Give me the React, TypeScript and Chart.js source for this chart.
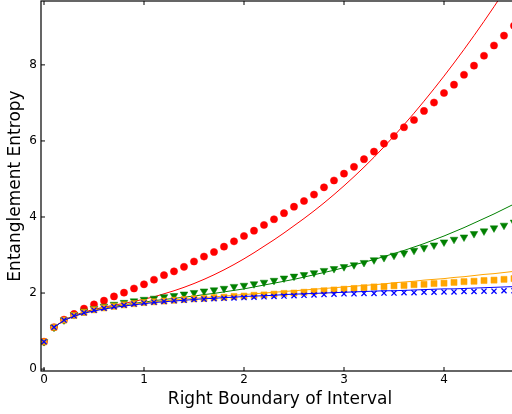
import { useEffect, useRef } from "react";
import { Chart, registerables } from "chart.js";

Chart.register(...registerables);

const xs = [0, 0.1, 0.2, 0.3, 0.4, 0.5, 0.6, 0.7, 0.8, 0.9, 1.0, 1.1, 1.2, 1.3, 1.4, 1.5, 1.6, 1.7, 1.8, 1.9, 2.0, 2.1, 2.2, 2.3, 2.4, 2.5, 2.6, 2.7, 2.8, 2.9, 3.0, 3.1, 3.2, 3.3, 3.4, 3.5, 3.6, 3.7, 3.8, 3.9, 4.0, 4.1, 4.2, 4.3, 4.4, 4.5, 4.6, 4.7];
const lineXs = [0.1, 0.2, 0.3, 0.4, 0.5, 0.6, 0.7, 0.8, 0.9, 1.0, 1.1, 1.2, 1.3, 1.4, 1.5, 1.6, 1.7, 1.8, 1.9, 2.0, 2.1, 2.2, 2.3, 2.4, 2.5, 2.6, 2.7, 2.8, 2.9, 3.0, 3.1, 3.2, 3.3, 3.4, 3.5, 3.6, 3.7, 3.8, 3.9, 4.0, 4.1, 4.2, 4.3, 4.4, 4.5, 4.6, 4.7];

const redPts = [0.72, 1.10, 1.30, 1.45, 1.59, 1.70, 1.80, 1.91, 2.01, 2.12, 2.23, 2.35, 2.47, 2.57, 2.69, 2.83, 2.96, 3.08, 3.22, 3.36, 3.50, 3.64, 3.79, 3.94, 4.10, 4.27, 4.42, 4.59, 4.78, 4.96, 5.14, 5.32, 5.52, 5.72, 5.93, 6.13, 6.36, 6.55, 6.79, 7.01, 7.26, 7.48, 7.74, 7.98, 8.24, 8.51, 8.77, 9.03];
const greenPts = [0.72, 1.10, 1.29, 1.43, 1.52, 1.59, 1.65, 1.70, 1.75, 1.79, 1.83, 1.86, 1.90, 1.93, 1.97, 2.01, 2.05, 2.08, 2.12, 2.17, 2.20, 2.24, 2.28, 2.33, 2.39, 2.44, 2.48, 2.53, 2.59, 2.64, 2.69, 2.74, 2.80, 2.87, 2.93, 2.99, 3.05, 3.12, 3.19, 3.26, 3.34, 3.41, 3.47, 3.56, 3.63, 3.71, 3.78, 3.86];
const orangePts = [0.72, 1.10, 1.29, 1.41, 1.49, 1.56, 1.61, 1.65, 1.69, 1.72, 1.75, 1.77, 1.79, 1.81, 1.83, 1.85, 1.86, 1.88, 1.89, 1.91, 1.92, 1.94, 1.95, 1.97, 1.99, 2.00, 2.02, 2.04, 2.06, 2.08, 2.10, 2.12, 2.14, 2.16, 2.17, 2.19, 2.20, 2.22, 2.23, 2.25, 2.26, 2.28, 2.30, 2.31, 2.33, 2.34, 2.36, 2.38];
const bluePts = [0.72, 1.10, 1.29, 1.40, 1.48, 1.55, 1.60, 1.64, 1.68, 1.71, 1.74, 1.76, 1.78, 1.80, 1.81, 1.83, 1.84, 1.85, 1.86, 1.87, 1.88, 1.89, 1.90, 1.91, 1.92, 1.93, 1.94, 1.95, 1.96, 1.97, 1.98, 1.98, 1.99, 1.99, 2.00, 2.00, 2.01, 2.01, 2.02, 2.02, 2.03, 2.03, 2.04, 2.04, 2.05, 2.05, 2.06, 2.06];

const redLine = [1.10, 1.29, 1.41, 1.50, 1.57, 1.63, 1.68, 1.73, 1.78, 1.84, 1.90, 1.98, 2.06, 2.15, 2.25, 2.36, 2.48, 2.61, 2.75, 2.90, 3.06, 3.23, 3.40, 3.58, 3.77, 3.96, 4.16, 4.37, 4.59, 4.82, 5.06, 5.31, 5.57, 5.845, 6.13, 6.425, 6.73, 7.045, 7.37, 7.705, 8.05, 8.405, 8.77, 9.145, 9.53, 9.925, 10.33];
const greenLine = [1.10, 1.28, 1.40, 1.48, 1.55, 1.60, 1.65, 1.69, 1.73, 1.76, 1.80, 1.83, 1.86, 1.89, 1.92, 1.96, 1.99, 2.03, 2.07, 2.11, 2.16, 2.21, 2.26, 2.31, 2.36, 2.42, 2.48, 2.54, 2.60, 2.67, 2.74, 2.81, 2.88, 2.96, 3.04, 3.12, 3.21, 3.30, 3.40, 3.50, 3.61, 3.72, 3.84, 3.96, 4.08, 4.21, 4.34];
const orangeLine = [1.10, 1.28, 1.39, 1.47, 1.54, 1.59, 1.63, 1.67, 1.71, 1.74, 1.77, 1.79, 1.82, 1.84, 1.86, 1.88, 1.90, 1.92, 1.94, 1.96, 1.98, 2.00, 2.02, 2.04, 2.06, 2.08, 2.10, 2.12, 2.14, 2.16, 2.18, 2.20, 2.22, 2.24, 2.27, 2.29, 2.31, 2.34, 2.36, 2.38, 2.41, 2.43, 2.46, 2.49, 2.51, 2.54, 2.57];
const blueLine = [1.10, 1.28, 1.39, 1.47, 1.53, 1.58, 1.62, 1.66, 1.69, 1.72, 1.75, 1.77, 1.79, 1.81, 1.83, 1.85, 1.86, 1.88, 1.89, 1.91, 1.92, 1.93, 1.94, 1.96, 1.97, 1.98, 1.99, 2.00, 2.01, 2.02, 2.03, 2.04, 2.05, 2.06, 2.06, 2.07, 2.08, 2.09, 2.10, 2.11, 2.11, 2.12, 2.13, 2.14, 2.15, 2.16, 2.17];

const xTicks = [0, 1, 2, 3, 4];
const yTicks = [0, 2, 4, 6, 8];

const RED = "#ff0000";
const GREEN = "#008000";
const ORANGE = "#ffa500";
const BLUE = "#0000ff";
const FONT = "'DejaVu Sans', sans-serif";

function pts(x: number[], y: number[]) {
  return x.map((v, i) => ({ x: v, y: y[i] }));
}

export default function App() {
  const ref = useRef<HTMLCanvasElement>(null);
  useEffect(() => {
    const canvas = ref.current!;
    const framePlugin = {
      id: "frame",
      afterDraw(chart: any) {
        const { ctx, chartArea: a, scales } = chart;
        ctx.save();
        ctx.strokeStyle = "#000";
        ctx.lineWidth = 1;
        ctx.beginPath();
        for (const v of xTicks) {
          const p = scales.x.getPixelForValue(v);
          ctx.moveTo(p, a.bottom);
          ctx.lineTo(p, a.bottom - 4);
          ctx.moveTo(p, a.top);
          ctx.lineTo(p, a.top + 4);
        }
        for (const v of yTicks) {
          const p = scales.y.getPixelForValue(v);
          ctx.moveTo(a.left, p);
          ctx.lineTo(a.left + 4, p);
          ctx.moveTo(a.right, p);
          ctx.lineTo(a.right - 4, p);
        }
        ctx.stroke();
        ctx.lineWidth = 1.2;
        ctx.strokeRect(a.left, a.top, a.right - a.left, a.bottom - a.top);
        ctx.restore();
      },
    };

    const chart = new Chart(canvas, {
      type: "scatter",
      data: {
        datasets: [
          { data: pts(lineXs, blueLine), showLine: true, pointRadius: 0, borderColor: BLUE, borderWidth: 1, order: 0 },
          { data: pts(xs, bluePts), pointStyle: "crossRot", pointRadius: 3.6, borderColor: BLUE, backgroundColor: BLUE, pointBorderWidth: 1.3, order: 1 },
          { data: pts(lineXs, orangeLine), showLine: true, pointRadius: 0, borderColor: ORANGE, borderWidth: 1, order: 2 },
          { data: pts(xs, orangePts), pointStyle: "rect", pointRadius: 4.3, borderColor: ORANGE, backgroundColor: ORANGE, pointBorderWidth: 0.5, order: 3 },
          { data: pts(lineXs, greenLine), showLine: true, pointRadius: 0, borderColor: GREEN, borderWidth: 1, order: 4 },
          { data: pts(xs, greenPts), pointStyle: "triangle", rotation: 180, pointRadius: 4.4, borderColor: GREEN, backgroundColor: GREEN, pointBorderWidth: 0.5, order: 5 },
          { data: pts(lineXs, redLine), showLine: true, pointRadius: 0, borderColor: RED, borderWidth: 1, order: 6 },
          { data: pts(xs, redPts), pointStyle: "circle", pointRadius: 3.6, borderColor: RED, backgroundColor: RED, pointBorderWidth: 0.5, order: 7 },
        ] as any,
      },
      options: {
        animation: false,
        responsive: false,
        devicePixelRatio: 1,
        layout: { autoPadding: false, padding: { top: 1, right: 1, left: 0, bottom: 0 } },
        plugins: { legend: { display: false }, tooltip: { enabled: false } },
        scales: {
          x: {
            type: "linear",
            min: -0.03,
            max: 4.75,
            grid: { display: false, drawTicks: false },
            border: { display: false },
            afterBuildTicks: (s: any) => {
              s.ticks = xTicks.map((v) => ({ value: v }));
            },
            afterFit: (s: any) => {
              s.height = 43;
              s.paddingLeft = 0;
              s.paddingRight = 0;
            },
            ticks: { color: "#000", font: { family: FONT, size: 12 }, padding: 2, callback: (v: any) => String(v) },
            title: {
              display: true,
              text: "Right Boundary of Interval",
              color: "#000",
              font: { family: FONT, size: 17 },
              padding: { top: 0, bottom: 4 },
            },
          },
          y: {
            type: "linear",
            min: -0.05,
            max: 9.68,
            grid: { display: false, drawTicks: false },
            border: { display: false },
            afterBuildTicks: (s: any) => {
              s.ticks = yTicks.map((v) => ({ value: v }));
            },
            afterFit: (s: any) => {
              s.width = 41;
              s.paddingTop = 0;
              s.paddingBottom = 0;
            },
            ticks: { color: "#000", font: { family: FONT, size: 12 }, padding: 4, callback: (v: any) => String(v) },
            title: {
              display: true,
              text: "Entanglement Entropy",
              color: "#000",
              font: { family: FONT, size: 17 },
              padding: { top: 5, bottom: 0 },
            },
          },
        },
      },
      plugins: [framePlugin],
    });
    return () => chart.destroy();
  }, []);

  return (
    <div style={{ position: "fixed", left: 0, top: 0, width: 512, height: 414, overflow: "hidden", background: "#fff" }}>
      <canvas ref={ref} width={520} height={414} style={{ display: "block", width: 520, height: 414 }} />
    </div>
  );
}
